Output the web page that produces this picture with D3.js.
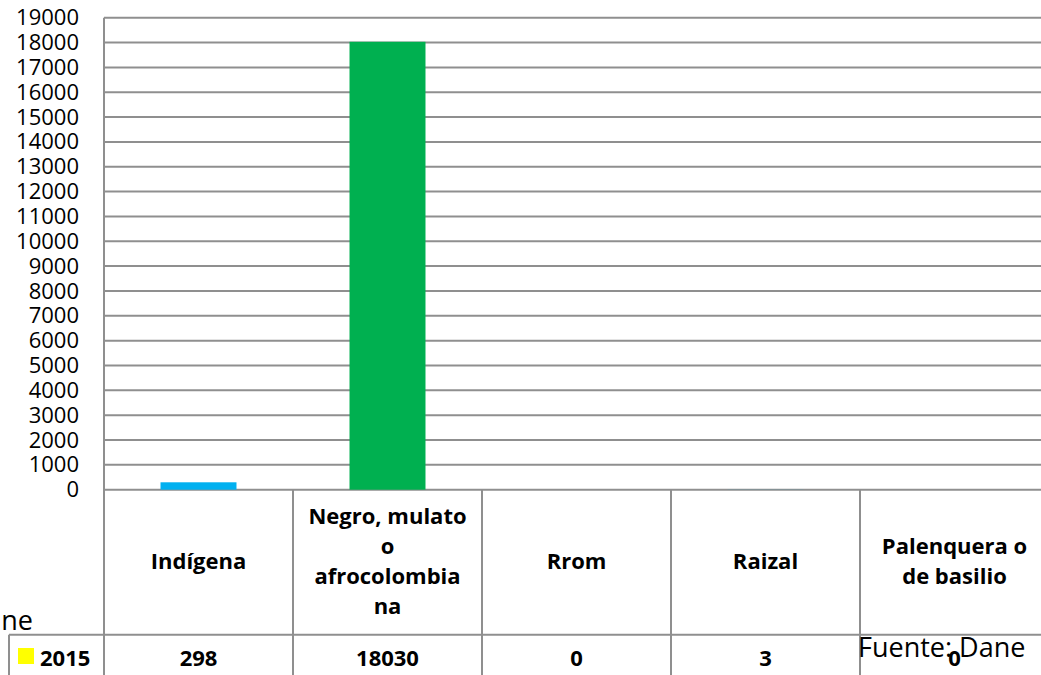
<!DOCTYPE html>
<html>
<head>
<meta charset="utf-8">
<script src="https://cdn.jsdelivr.net/npm/d3@7"></script>
<style>
  body { margin: 0; background: #fff; }
  svg { display: block; font-family: "Open Sans", sans-serif; }
</style>
</head>
<body>
<div id="vis"></div>
<script>
// chart values
var categories = ['Indígena', 'Negro, mulato o afrocolombiana', 'Rrom', 'Raizal', 'Palenquera o de basilio'];
// how the header cells wrap their labels
var headerLines = [
  ['Indígena'],
  ['Negro, mulato', 'o', 'afrocolombia', 'na'],
  ['Rrom'],
  ['Raizal'],
  ['Palenquera o', 'de basilio']
];
var values = [298, 18030, 0, 3, 0];
var barColors = ['#00b0f0', '#00b050', '#00b0f0', '#00b0f0', '#00b0f0'];
var seriesName = '2015';
var yTicks = d3.range(0, 19001, 1000);
var sourceText = 'Fuente: Dane';

var width = 1041;
var height = 675;
var gridColor = '#8f8f8f';

var svg = d3.select('#vis').append('svg')
  .attr('width', width)
  .attr('height', height);

var x = d3.scaleBand()
  .domain(categories)
  .range([104, 1049])
  .paddingInner(0.598)
  .paddingOuter(0.299);

var y = d3.scaleLinear()
  .domain([0, 19000])
  .range([489.7, 17.7]);

var step = x.step();
// left edge of a table column (band start minus half the gap)
function colLeft(d) { return x(d) - (step - x.bandwidth()) / 2; }

// gridlines
svg.append('g')
  .selectAll('line')
  .data(yTicks)
  .enter().append('line')
  .attr('x1', 104).attr('x2', width)
  .attr('y1', function (d) { return y(d); })
  .attr('y2', function (d) { return y(d); })
  .attr('stroke', gridColor)
  .attr('stroke-width', 2);

// y axis labels, no tick marks
var yAxis = d3.axisLeft(y).tickValues(yTicks).tickFormat(d3.format('d')).tickSize(0).tickPadding(25);
var yg = svg.append('g')
  .attr('transform', 'translate(104,0)')
  .call(yAxis);
yg.select('.domain').remove();
yg.selectAll('text')
  .attr('font-family', '"Open Sans", sans-serif')
  .attr('font-size', 22)
  .attr('fill', '#000');

// vertical axis line
svg.append('line')
  .attr('x1', 104).attr('x2', 104)
  .attr('y1', y(19000)).attr('y2', height)
  .attr('stroke', gridColor).attr('stroke-width', 2);

// bars
svg.append('g')
  .selectAll('rect')
  .data(values)
  .enter().append('rect')
  .attr('x', function (d, i) { return x(categories[i]); })
  .attr('width', x.bandwidth())
  .attr('y', function (d) { return y(d); })
  .attr('height', function (d) { return y(0) - y(d); })
  .attr('fill', function (d, i) { return barColors[i]; });

// data table under the chart
var rowTop = 634.7;
var table = svg.append('g');

// column separators
table.selectAll('line.col')
  .data(categories)
  .enter().append('line')
  .attr('class', 'col')
  .attr('x1', function (d) { return colLeft(d) + step; })
  .attr('x2', function (d) { return colLeft(d) + step; })
  .attr('y1', y(0)).attr('y2', height)
  .attr('stroke', gridColor).attr('stroke-width', 2);

// row line and legend cell border
table.append('line')
  .attr('x1', 9).attr('x2', width)
  .attr('y1', rowTop).attr('y2', rowTop)
  .attr('stroke', gridColor).attr('stroke-width', 2);
table.append('line')
  .attr('x1', 9).attr('x2', 9)
  .attr('y1', rowTop).attr('y2', height)
  .attr('stroke', gridColor).attr('stroke-width', 2);

// header labels
var headerMid = 561;
var lineH = 30;
categories.forEach(function (c, i) {
  var lines = headerLines[i];
  var t = table.append('text')
    .attr('text-anchor', 'middle')
    .attr('font-weight', 'bold')
    .attr('font-size', 22)
    .attr('fill', '#000');
  lines.forEach(function (l, j) {
    t.append('tspan')
      .attr('x', x(c) + x.bandwidth() / 2)
      .attr('y', headerMid + (j - (lines.length - 1) / 2) * lineH)
      .attr('dy', '0.35em')
      .text(l);
  });
});

// values row
table.selectAll('text.val')
  .data(values)
  .enter().append('text')
  .attr('class', 'val')
  .attr('x', function (d, i) { return x(categories[i]) + x.bandwidth() / 2; })
  .attr('y', 658)
  .attr('dy', '0.35em')
  .attr('text-anchor', 'middle')
  .attr('font-weight', 'bold')
  .attr('font-size', 22)
  .text(function (d) { return d; });

// legend key
table.append('rect')
  .attr('x', 18).attr('y', 648)
  .attr('width', 16).attr('height', 16)
  .attr('fill', '#ffff00');
table.append('text')
  .attr('x', 40).attr('y', 658)
  .attr('dy', '0.35em')
  .attr('font-weight', 'bold')
  .attr('font-size', 22)
  .text(seriesName);

// source notes
svg.append('text')
  .attr('x', 858).attr('y', 657)
  .attr('font-size', 27)
  .text(sourceText);
svg.append('text')
  .attr('x', 33).attr('y', 630)
  .attr('text-anchor', 'end')
  .attr('font-size', 27)
  .text(sourceText);
</script>
</body>
</html>
